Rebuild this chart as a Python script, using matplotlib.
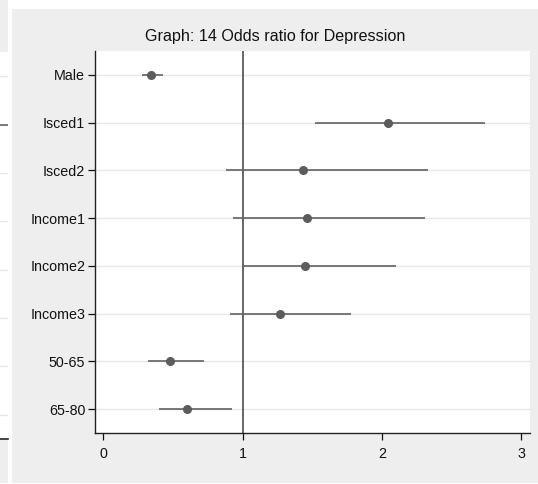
import matplotlib
matplotlib.use("Agg")
import matplotlib.pyplot as plt
from matplotlib.patches import Rectangle
from matplotlib import font_manager

names = {f.name for f in font_manager.fontManager.ttflist}
fam = "Liberation Sans Narrow" if "Liberation Sans Narrow" in names else "Liberation Sans"
plt.rcParams['font.family'] = [fam, 'DejaVu Sans']

categories = ["Male", "Isced1", "Isced2", "Income1", "Income2", "Income3", "50-65", "65-80"]
odds_ratio = [0.34, 2.04, 1.43, 1.46, 1.45, 1.27, 0.48, 0.60]
ci_low = [0.28, 1.52, 0.88, 0.93, 1.00, 0.91, 0.32, 0.40]
ci_high = [0.43, 2.74, 2.33, 2.31, 2.10, 1.78, 0.72, 0.92]
x_ticks = [0, 1, 2, 3]
title = "Graph: 14 Odds ratio for Depression"

W, H = 538, 484
fig = plt.figure(figsize=(W / 100, H / 100), dpi=100)
fig.patch.set_facecolor("white")

def fx(px):
    return px / W

def fy(py):
    return 1 - py / H

panel_bg = "#eeeeee"
bg = fig.add_axes([0, 0, 1, 1], zorder=0)
bg.set_xlim(0, W)
bg.set_ylim(H, 0)
bg.axis("off")
bg.add_patch(Rectangle((12, 9), 526, 474, facecolor=panel_bg, edgecolor="none"))
bg.add_patch(Rectangle((0, 0), 8, 483, facecolor=panel_bg, edgecolor="none"))

n = len(categories)
ypos = list(range(1, n + 1))

# strip axes (edge of neighbouring panel)
sax = fig.add_axes([0, fy(439), fx(8), fy(52) - fy(439)], zorder=2)
sax.set_facecolor("white")
sax.set_xlim(0, 1)
sax.set_ylim(n + 0.5, 0.5)
for y in ypos:
    sax.axhline(y, color="#e6e6e6", lw=1.0, zorder=1)
sax.plot([0, 1], [2, 2], color="#666666", lw=1.2, zorder=2)
for s in ["top", "left", "right"]:
    sax.spines[s].set_visible(False)
sax.spines["bottom"].set_color("#222222")
sax.spines["bottom"].set_linewidth(1.2)
sax.set_xticks([])
sax.set_yticks([])

# main axes
ax = fig.add_axes([fx(95), fy(433), fx(530) - fx(95), fy(51) - fy(433)], zorder=2)
ax.set_facecolor("white")
ax.set_xlim(-0.06, 3.063)
ax.set_ylim(n + 0.5, 0.5)

for y in ypos:
    ax.axhline(y, color="#e8e8e8", lw=1.0, zorder=1)
ax.axvline(1, color="#5a5a5a", lw=1.3, zorder=2)

for y, lo, hi in zip(ypos, ci_low, ci_high):
    ax.plot([lo, hi], [y, y], color="#616161", lw=1.2, zorder=3, solid_capstyle="butt")
ax.plot(odds_ratio, ypos, "o", color="#5c5c5c", ms=5.5, zorder=4, mec="#5c5c5c")

ax.set_yticks(ypos)
ax.set_yticklabels(categories)
ax.set_xticks(x_ticks)
ax.set_xticklabels([str(t) for t in x_ticks])
ax.tick_params(axis="both", labelsize=10.3, colors="#111111", length=5, width=0.9, direction="out")
ax.tick_params(axis="y", pad=2)
ax.tick_params(axis="x", pad=5)
for s in ["top", "right"]:
    ax.spines[s].set_visible(False)
for s in ["left", "bottom"]:
    ax.spines[s].set_color("#222222")
    ax.spines[s].set_linewidth(1.0)

bg.text(275, 37, title, ha="center", va="center", fontsize=11.6, color="#111111")

fig.savefig("out.png", dpi=100, facecolor=fig.get_facecolor())
